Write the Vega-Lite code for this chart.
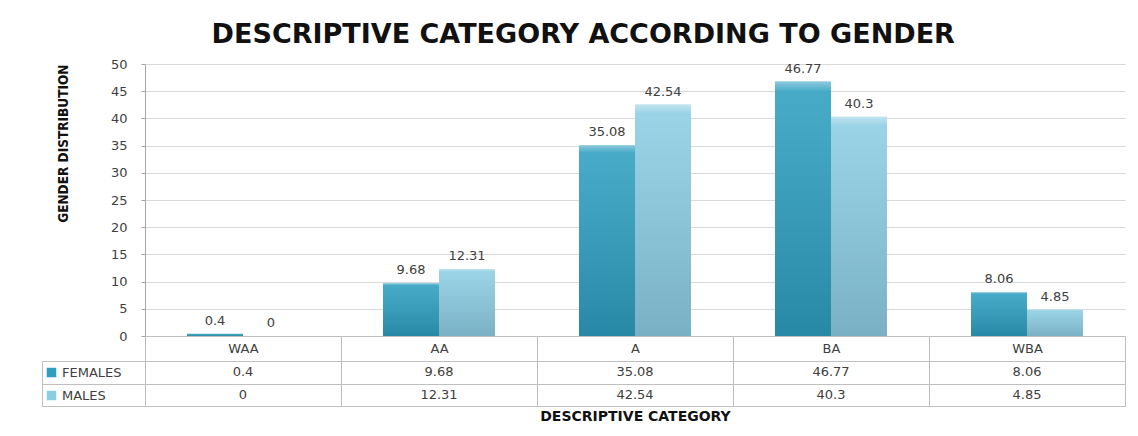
{
  "$schema": "https://vega.github.io/schema/vega-lite/v6.json",
  "padding": {"left": 41, "top": 21, "right": 5, "bottom": 5},
  "background": "white",
  "title": {"text": "DESCRIPTIVE CATEGORY ACCORDING TO GENDER", "font": "DejaVu Sans", "fontSize": 27, "fontWeight": "bold", "color": "#111111", "anchor": "middle", "frame": "bounds", "offset": 9},
  "data": {"values": [
    {"category": "WAA", "series": "FEMALES", "value": 0.4},
    {"category": "WAA", "series": "MALES", "value": 0},
    {"category": "AA", "series": "FEMALES", "value": 9.68},
    {"category": "AA", "series": "MALES", "value": 12.31},
    {"category": "A", "series": "FEMALES", "value": 35.08},
    {"category": "A", "series": "MALES", "value": 42.54},
    {"category": "BA", "series": "FEMALES", "value": 46.77},
    {"category": "BA", "series": "MALES", "value": 40.3},
    {"category": "WBA", "series": "FEMALES", "value": 8.06},
    {"category": "WBA", "series": "MALES", "value": 4.85}
  ]},
  "spacing": 25,
  "bounds": "flush",
  "resolve": {"scale": {"color": "independent"}, "legend": {"color": "independent"}},
  "config": {"view": {"stroke": null}, "font": "DejaVu Sans", "axis": {"labelFont": "DejaVu Sans", "titleFont": "DejaVu Sans"}},
  "vconcat": [
    {
      "width": 980,
      "height": 272,
      "encoding": {
        "x": {"field": "category", "type": "nominal", "sort": ["WAA", "AA", "A", "BA", "WBA"],
          "scale": {"paddingInner": 0, "paddingOuter": 0},
          "axis": {"title": null, "labelAngle": 0, "tickBand": "extent", "tickSize": 25, "labelPadding": -19, "labelFontSize": 13, "labelColor": "#404040", "tickColor": "#bfbfbf", "domainColor": "#bfbfbf", "grid": false}},
        "xOffset": {"field": "series", "type": "nominal", "sort": ["FEMALES", "MALES"], "scale": {"paddingInner": 0, "paddingOuter": 0.75}},
        "y": {"field": "value", "type": "quantitative", "scale": {"domain": [0, 50]},
          "axis": {"title": "GENDER DISTRIBUTION", "titleFont": "DejaVu Sans Condensed, Liberation Sans Narrow, DejaVu Sans", "titleFontSize": 13.5, "titleFontWeight": "bold", "titleColor": "#111111", "titleAnchor": "end", "titlePadding": 40,
            "values": [0, 5, 10, 15, 20, 25, 30, 35, 40, 45, 50], "labelFontSize": 13, "labelColor": "#404040", "labelPadding": 14, "tickSize": 4, "tickColor": "#a6a6a6", "domainColor": "#a6a6a6", "gridColor": "#d9d9d9"}}
      },
      "layer": [
        {"mark": {"type": "bar"},
          "encoding": {"color": {"field": "series", "type": "nominal",
            "scale": {"domain": ["FEMALES", "MALES"], "range": ["#2E9FC0", "#8DCDE3"]},
            "legend": {"orient": "none", "legendX": -100, "legendY": 302, "title": null, "symbolType": "square", "symbolSize": 90, "symbolStrokeWidth": 0, "labelFontSize": 13, "labelColor": "#404040", "labelFont": "DejaVu Sans", "rowPadding": 9, "padding": 0}}}},
        {"mark": {"type": "bar", "color": {"gradient": "linear", "x1": 0, "y1": 0, "x2": 0, "y2": 1,
          "stops": [{"offset": 0, "color": "rgba(255,255,255,0.45)"}, {"offset": 0.04, "color": "rgba(255,255,255,0.12)"}, {"offset": 1, "color": "rgba(0,0,0,0.14)"}]}}},
        {"mark": {"type": "text", "dy": -9, "baseline": "alphabetic", "fontSize": 13, "color": "#404040"},
          "encoding": {"text": {"field": "value", "type": "quantitative", "format": "~g"}}}
      ]
    },
    {
      "width": 980,
      "height": 45,
      "view": {"stroke": "#bfbfbf"},
      "mark": {"type": "text", "fontSize": 13, "color": "#404040"},
      "encoding": {
        "x": {"field": "category", "type": "nominal", "sort": ["WAA", "AA", "A", "BA", "WBA"],
          "scale": {"type": "band", "paddingInner": 0, "paddingOuter": 0},
          "axis": {"title": "DESCRIPTIVE CATEGORY", "labels": false, "ticks": false, "domain": false, "grid": true, "tickBand": "extent", "gridColor": "#bfbfbf", "titleFontWeight": "bold", "titleFontSize": 14, "titlePadding": 3, "titleColor": "#111111"}},
        "y": {"field": "series", "type": "nominal", "sort": ["FEMALES", "MALES"],
          "scale": {"type": "band", "paddingInner": 0, "paddingOuter": 0},
          "axis": {"title": null, "labels": false, "offset": 103, "tickSize": -103, "tickBand": "extent", "grid": true, "gridColor": "#bfbfbf", "tickColor": "#bfbfbf", "domainColor": "#bfbfbf"}},
        "text": {"field": "value", "type": "quantitative", "format": "~g"}
      }
    }
  ]
}
